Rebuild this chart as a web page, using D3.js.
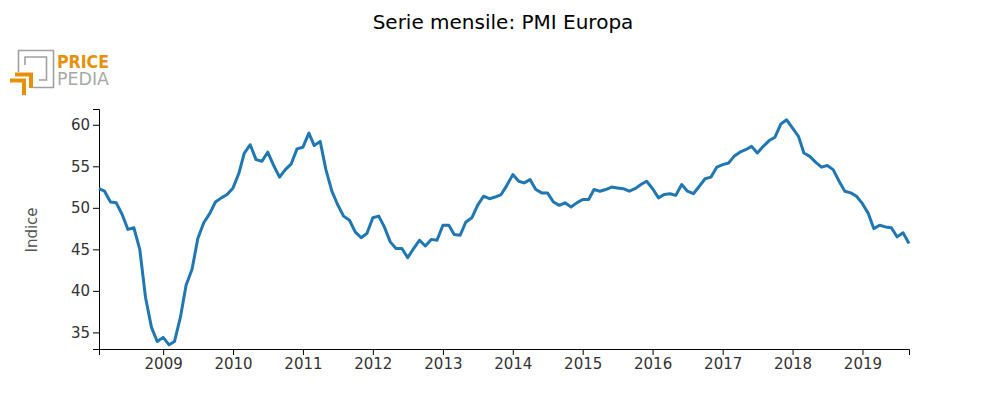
<!DOCTYPE html>
<html>
<head>
<meta charset="utf-8">
<script src="https://cdn.jsdelivr.net/npm/d3@7"></script>
<style>
  body { margin: 0; background: #fff; }
  svg { font-family: "DejaVu Sans", sans-serif; }
</style>
</head>
<body>
<svg width="1000" height="400"></svg>
<script>
// Monthly PMI values, Feb 2008 - Sep 2019
const startMonth = "2008-02";
const values2008 = [52.3, 52.0, 50.7, 50.6, 49.2, 47.4, 47.6, 45.0, 39.2, 35.6, 33.9];
const values2009 = [34.4, 33.5, 33.9, 36.8, 40.7, 42.6, 46.3, 48.2, 49.3, 50.7, 51.2, 51.6];
const values2010 = [52.4, 54.2, 56.6, 57.6, 55.8, 55.6, 56.7, 55.1, 53.7, 54.6, 55.3, 57.1];
const values2011 = [57.3, 59.0, 57.5, 58.0, 54.6, 52.0, 50.4, 49.0, 48.5, 47.1, 46.4, 46.9];
const values2012 = [48.8, 49.0, 47.7, 45.9, 45.1, 45.1, 44.0, 45.1, 46.1, 45.4, 46.2, 46.1];
const values2013 = [47.9, 47.9, 46.8, 46.7, 48.3, 48.8, 50.3, 51.4, 51.1, 51.3, 51.6, 52.7];
const values2014 = [54.0, 53.2, 53.0, 53.4, 52.2, 51.8, 51.8, 50.7, 50.3, 50.6, 50.1, 50.6];
const values2015 = [51.0, 51.0, 52.2, 52.0, 52.2, 52.5, 52.4, 52.3, 52.0, 52.3, 52.8, 53.2];
const values2016 = [52.3, 51.2, 51.6, 51.7, 51.5, 52.8, 52.0, 51.7, 52.6, 53.5, 53.7, 54.9];
const values2017 = [55.2, 55.4, 56.2, 56.7, 57.0, 57.4, 56.6, 57.4, 58.1, 58.5, 60.1, 60.6];
const values2018 = [59.6, 58.6, 56.6, 56.2, 55.5, 54.9, 55.1, 54.6, 53.2, 52.0, 51.8, 51.4];
const values2019 = [50.5, 49.3, 47.5, 47.9, 47.7, 47.6, 46.5, 47.0, 45.7];
const yTicks = [35, 40, 45, 50, 55, 60];

const values = [].concat(values2008, values2009, values2010, values2011, values2012,
    values2013, values2014, values2015, values2016, values2017, values2018, values2019);
const start = d3.timeParse("%Y-%m")(startMonth);
const data = values.map(function (v, i) {
    return { date: d3.timeMonth.offset(start, i), value: v };
});

var svg = d3.select("svg");
var margin = { top: 109, right: 91, bottom: 51, left: 99 };
var width = 1000 - margin.left - margin.right;
var height = 400 - margin.top - margin.bottom;

// Title
svg.append("text")
    .attr("x", 503)
    .attr("y", 29)
    .attr("text-anchor", "middle")
    .attr("font-size", "20px")
    .attr("fill", "#000")
    .text("Serie mensile: PMI Europa");

// Logo
var logo = svg.append("g");
logo.append("path")
    .attr("d", "M18.5,72 V50.5 H53.5 V87.5 H33")
    .attr("fill", "none").attr("stroke", "#a0a0a0").attr("stroke-width", 1.6);
logo.append("path")
    .attr("d", "M25,65 V57 H46.5 V80 H39")
    .attr("fill", "none").attr("stroke", "#a0a0a0").attr("stroke-width", 1.6);
logo.append("path")
    .attr("d", "M15,74.5 H31 V88")
    .attr("fill", "none").attr("stroke", "#e8900a").attr("stroke-width", 4);
logo.append("path")
    .attr("d", "M10,80.5 H24 V95")
    .attr("fill", "none").attr("stroke", "#e8900a").attr("stroke-width", 4);
logo.append("text")
    .attr("x", 57).attr("y", 67.5)
    .attr("font-size", "17px").attr("font-weight", "bold")
    .attr("fill", "#e8900a")
    .attr("textLength", 52).attr("lengthAdjust", "spacingAndGlyphs")
    .text("PRICE");
logo.append("text")
    .attr("x", 57).attr("y", 85)
    .attr("font-size", "18px")
    .attr("fill", "#a8a8a8")
    .attr("textLength", 52).attr("lengthAdjust", "spacingAndGlyphs")
    .text("PEDIA");

// Scales
var x = d3.scaleTime()
    .domain(d3.extent(data, function (d) { return d.date; }))
    .range([0, width]);
var y = d3.scaleLinear().domain([33, 61.9]).range([height, 0]);

var g = svg.append("g")
    .attr("transform", "translate(" + margin.left + "," + margin.top + ")");

// Axes
var xAxis = g.append("g")
    .attr("transform", "translate(0," + height + ")")
    .call(d3.axisBottom(x).ticks(d3.timeYear.every(1)).tickFormat(d3.timeFormat("%Y")));
var yAxis = g.append("g")
    .call(d3.axisLeft(y).tickValues(yTicks));

[xAxis, yAxis].forEach(function (a) {
    a.selectAll("text").attr("font-size", "15px").attr("fill", "#333").attr("font-family", "DejaVu Sans");
    a.selectAll("path, line").attr("stroke", "#000");
});

svg.append("text")
    .attr("transform", "translate(37,230) rotate(-90)")
    .attr("text-anchor", "middle")
    .attr("font-size", "15px")
    .attr("fill", "#555")
    .text("Indice");

// Line
var line = d3.line()
    .x(function (d) { return x(d.date); })
    .y(function (d) { return y(d.value); });

g.append("path")
    .datum(data)
    .attr("fill", "none")
    .attr("stroke", "#1f77b4")
    .attr("stroke-width", 3)
    .attr("stroke-linejoin", "round")
    .attr("d", line);
</script>
</body>
</html>
